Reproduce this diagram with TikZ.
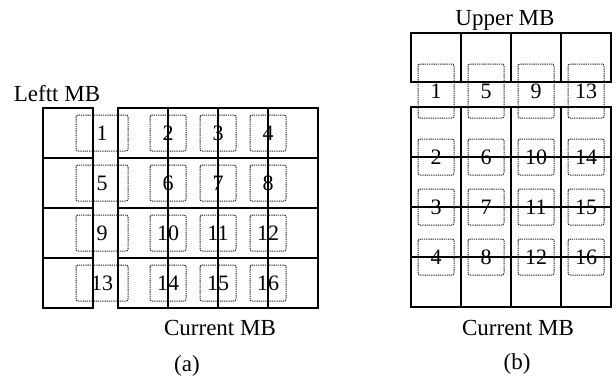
\documentclass[tikz,border=0pt]{standalone}
\usepackage{fontspec}
\setmainfont{Liberation Serif}
\usepackage{tikz}
\usetikzlibrary{calc}

\tikzset{
    mbline/.style={line width=1.1pt},
    blk/.style={draw=black!85, line width=1pt, dash pattern=on 1.3pt off 0.9pt, rounded corners=2pt},
    num/.style={inner sep=0pt, font=\fontsize{22}{24}\selectfont},
    mbtext/.style={inner sep=0pt, font=\fontsize{23}{25}\selectfont}
}

\begin{document}
\begin{tikzpicture}[x=1pt, y=-1pt]
    \useasboundingbox (0,0) rectangle (616,384);

    % 1. (a) Leftt MB va Current MB
    \draw[mbline] (43,108) rectangle (93,308);
    \draw[mbline] (118,108) rectangle (318,308);
    \foreach \y in {158,208,258} {
        \draw[mbline] (43,\y) -- (93,\y);
        \draw[mbline] (118,\y) -- (318,\y);
    }
    \foreach \x in {168,218,268}
        \draw[mbline] (\x,108) -- (\x,308);

    % 2. (a) cac khoi 4x4
    \foreach \r [count=\i from 0] in {133,183,233,283} {
        \draw[blk] (76,\r-18) rectangle (128,\r+18);
        \node[num] (a\i1) at (102,\r) {\number\numexpr 4*\i+1\relax};
        \foreach \x [count=\j from 2] in {168,218,268} {
            \draw[blk] (\x-18,\r-18) rectangle (\x+18,\r+18);
            \node[num] (a\i\j) at (\x,\r) {\number\numexpr 4*\i+\j\relax};
        }
    }
    \node[mbtext] (leftmb) at (57,94) {Leftt MB};
    \node[mbtext] (curA) at (220,328) {Current MB};
    \node[mbtext] (capA) at (187,366) {(a)};

    % 3. (b) Upper MB va Current MB
    \draw[mbline] (411,33) rectangle (611,82);
    \draw[mbline] (411,107) rectangle (611,307);
    \foreach \x in {461,511,561} {
        \draw[mbline] (\x,33) -- (\x,82);
        \draw[mbline] (\x,107) -- (\x,307);
    }
    \foreach \y in {157,207,257}
        \draw[mbline] (411,\y) -- (611,\y);

    % 4. (b) cac khoi 4x4
    \foreach \c [count=\i from 0] in {436,486,536,586} {
        \draw[blk] (\c-18,64) rectangle (\c+18,118);
        \node[num] (b\i1) at (\c,91) {\number\numexpr 4*\i+1\relax};
        \foreach \y [count=\j from 2] in {157,207,257} {
            \draw[blk] (\c-18,\y-18) rectangle (\c+18,\y+18);
            \node[num] (b\i\j) at (\c,\y) {\number\numexpr 4*\i+\j\relax};
        }
    }
    \node[mbtext] (uppermb) at (505,20) {Upper MB};
    \node[mbtext] (curB) at (518,328) {Current MB};
    \node[mbtext] (capB) at (517,364) {(b)};
\end{tikzpicture}
\end{document}
